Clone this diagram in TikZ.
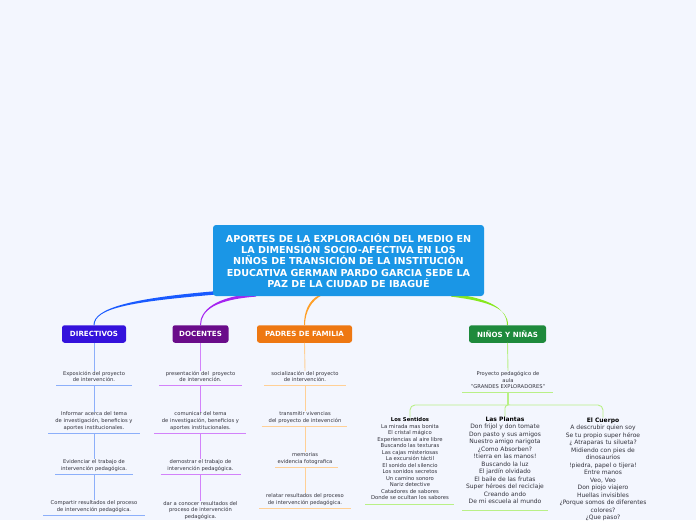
\documentclass[tikz,border=0pt]{standalone}
\usepackage{fontspec}
\setmainfont{DejaVu Sans}
\usetikzlibrary{calc}
\pgfdeclarelayer{back}
\pgfsetlayers{back,main}
\definecolor{bg}{RGB}{243,246,254}
\definecolor{cblue}{RGB}{26,150,230}
\definecolor{dirc}{RGB}{52,18,220}
\definecolor{docc}{RGB}{106,12,138}
\definecolor{padc}{RGB}{238,120,18}
\definecolor{ninc}{RGB}{30,138,60}
\definecolor{dirk}{RGB}{25,90,255}
\definecolor{dock}{RGB}{165,35,240}
\definecolor{padk}{RGB}{255,160,40}
\definecolor{nink}{RGB}{135,232,30}
\definecolor{dirl}{RGB}{140,175,250}
\definecolor{docl}{RGB}{210,130,250}
\definecolor{padl}{RGB}{255,208,150}
\definecolor{ninl}{RGB}{185,240,135}
\definecolor{txt}{RGB}{50,50,60}
\begin{document}
\begin{tikzpicture}[x=1pt,y=-1pt,
  central/.style={fill=cblue, rounded corners=3pt, text=white,
    font=\bfseries\fontsize{9.6}{11.4}\selectfont, align=center,
    minimum width=271pt, minimum height=71pt, inner sep=0pt},
  branch/.style={rounded corners=2.5pt, text=white,
    font=\bfseries\fontsize{7.1}{8}\selectfont, minimum height=17.5pt, inner sep=0pt},
  item/.style={font=\fontsize{5.2}{6.7}\selectfont, align=center, text=txt, inner sep=0pt},
  sent/.style={font=\fontsize{5.3}{6.5}\selectfont, align=center, text=txt, inner sep=0pt},
  big/.style={font=\fontsize{6}{7.5}\selectfont, align=center, text=txt, inner sep=0pt},
  vline/.style={line width=0.9pt},
  uline/.style={line width=0.9pt}
]
\useasboundingbox (0,0) rectangle (696,520);
\begin{pgfonlayer}{back}
\fill[bg] (0,0) rectangle (696,520);
\end{pgfonlayer}

% central and branch nodes
\node[central] (c) at (348.5,260.5) {APORTES DE LA EXPLORACIÓN DEL MEDIO EN\\LA DIMENSIÓN SOCIO-AFECTIVA EN LOS\\NIÑOS DE TRANSICIÓN DE LA INSTITUCIÓN\\EDUCATIVA GERMAN PARDO GARCIA SEDE LA\\PAZ DE LA CIUDAD DE IBAGUÉ};
\node[branch, fill=dirc, minimum width=64pt] (d) at (94,334) {DIRECTIVOS};
\node[branch, fill=docc, minimum width=56pt] (o) at (200.5,334) {DOCENTES};
\node[branch, fill=padc, minimum width=95pt] (p) at (304.5,334) {PADRES DE FAMILIA};
\node[branch, fill=ninc, minimum width=77pt] (n) at (507.5,334) {NIÑOS Y NIÑAS};

% tapered main connectors
\coordinate (cd) at (214,293);
\coordinate (co) at (256,295);
\coordinate (cp) at (321,295);
\coordinate (cn) at (451,295);
\begin{pgfonlayer}{back}
\fill[dirk] ($(cd)+(0,-1.7)$) .. controls +(-82,7) and +(0,-17) .. ($(d.north)+(-0.5,0)$)
  -- ($(d.north)+(0.5,0)$) .. controls +(0,-17) and +(-82,7) .. ($(cd)+(0,1.7)$) -- cycle;
\fill[dock] ($(co)+(0,-1.6)$) .. controls +(-40,3) and +(0,-15) .. ($(o.north)+(-0.5,0)$)
  -- ($(o.north)+(0.5,0)$) .. controls +(0,-15) and +(-40,3) .. ($(co)+(0,1.6)$) -- cycle;
\fill[padk] ($(cp)+(-1.5,0)$) .. controls +(-11,5) and +(0,-13) .. ($(p.north)+(-0.5,0)$)
  -- ($(p.north)+(0.5,0)$) .. controls +(0,-13) and +(-11,5) .. ($(cp)+(1.5,0)$) -- cycle;
\fill[nink] ($(cn)+(0,-1.6)$) .. controls +(40,5) and +(0,-16) .. ($(n.north)+(-0.5,0)$)
  -- ($(n.north)+(0.5,0)$) .. controls +(0,-16) and +(40,5) .. ($(cn)+(0,1.6)$) -- cycle;
\end{pgfonlayer}

% DIRECTIVOS
\node[item] (d1) at (94,376.5) {Exposición del proyecto\\de intervención.};
\node[item] (d2) at (94,421) {Informar acerca del tema\\de investigación, beneficios y\\aportes institucionales.};
\node[item] (d3) at (94,465.5) {Evidenciar el trabajo de\\intervención pedagógica.};
\node[item] (d4) at (94,506.5) {Compartir resultados del proceso\\de intervención pedagógica.};
\coordinate (d1u) at (94,385);
\coordinate (d2u) at (94,433);
\coordinate (d3u) at (94,474);
\draw[dirl, uline] (56,385) -- (132,385);
\draw[dirl, uline] (48,433) -- (140,433);
\draw[dirl, uline] (55,474) -- (133,474);
\draw[dirl, uline] (43,515) -- (145,515);
\draw[dirl, vline] (d.south) -- (d1.north);
\draw[dirl, vline] (d1u) -- (d2.north);
\draw[dirl, vline] (d2u) -- (d3.north);
\draw[dirl, vline] (d3u) -- (d4.north);

% DOCENTES
\node[item] (o1) at (200.5,376.5) {presentación del~ proyecto\\de intervención.};
\node[item] (o2) at (200.5,421) {comunicar del tema\\de investigación, beneficios y\\aportes institucionales.};
\node[item] (o3) at (200.5,465.5) {demostrar el trabajo de\\intervención pedagógica.};
\node[item] (o4) at (200.5,510.5) {dar a conocer resultados del\\proceso de intervención\\pedagógica.};
\coordinate (o1u) at (200.5,385.3);
\coordinate (o2u) at (200.5,433.3);
\coordinate (o3u) at (200.5,474);
\draw[docl, uline] (159,385.3) -- (241.7,385.3);
\draw[docl, uline] (154,433.3) -- (246,433.3);
\draw[docl, uline] (160.7,474) -- (240.7,474);
\draw[docl, vline] (o.south) -- (o1.north);
\draw[docl, vline] (o1u) -- (o2.north);
\draw[docl, vline] (o2u) -- (o3.north);
\draw[docl, vline] (o3u) -- (o4.north);

% PADRES DE FAMILIA
\node[item] (p1) at (305,376.5) {socialización del proyecto\\de intervención.};
\node[item] (p2) at (305,417.5) {transmitir vivencias\\del proyecto de intevención};
\node[item] (p3) at (305,458.5) {memorias\\evidencia fotografica};
\node[item] (p4) at (305,499.5) {relatar resultados del proceso\\de intervención pedagógica.};
\coordinate (p1u) at (305,385.3);
\coordinate (p2u) at (305,426.3);
\coordinate (p3u) at (305,467);
\draw[padl, uline] (264,385.3) -- (345.7,385.3);
\draw[padl, uline] (261.7,426.3) -- (347.3,426.3);
\draw[padl, uline] (275,467) -- (338,467);
\draw[padl, uline] (259.3,508.3) -- (350.7,508.3);
\draw[padl, vline] (p.south) -- (p1.north);
\draw[padl, vline] (p1u) -- (p2.north);
\draw[padl, vline] (p2u) -- (p3.north);
\draw[padl, vline] (p3u) -- (p4.north);

% NIÑOS Y NIÑAS
\node[item] (n1) at (508,380) {Proyecto pedagógico de\\aula\\"GRANDES EXPLORADORES"};
\coordinate (n1u) at (507.7,392.3);
\draw[ninl, uline] (462,392.3) -- (552.7,392.3);
\draw[ninl, vline] (n.south) -- (n1.north);

\node[sent, anchor=north] (ls) at (410,417.5) {{\bfseries\color{black}Los Sentidos}\\La mirada mas bonita\\El cristal mágico\\Experiencias al aire libre\\Buscando las texturas\\Las cajas misteriosas\\La excursión táctil\\El sonido del silencio\\Los sonidos secretos\\Un camino sonoro\\Nariz detective\\Catadores de sabores\\Donde se ocultan los sabores};
\node[big, anchor=north] (pl) at (505,416.5) {{\bfseries\color{black}Las Plantas}\\Don frijol y don tomate\\Don pasto y sus amigos\\Nuestro amigo narigota\\¿Como Absorben?\\!tierra en las manos!\\Buscando la luz\\El jardín olvidado\\El baile de las frutas\\Super héroes del reciclaje\\Creando ando\\De mi escuela al mundo};
\node[big, anchor=north] (ec) at (603,417.5) {{\bfseries\color{black}El Cuerpo}\\A descrubir quien soy\\Se tu propio super héroe\\¿ Atraparas tu silueta?\\Midiendo con pies de\\dinosaurios\\!piedra, papel o tijera!\\Entre manos\\Veo, Veo\\Don piojo viajero\\Huellas invisibles\\¿Porque somos de diferentes\\colores?\\¿Que paso?};
\draw[ninl, uline] (365,504) -- (454,504);
\draw[ninl, uline] (462,510) -- (548,510);

\coordinate (j) at (507.7,405);
\draw[ninl, line width=1.8pt] (n1u) -- (j);
\draw[ninl, vline, rounded corners=5pt] (ls.north) |- (j) -| (ec.north);
\draw[ninl, vline, rounded corners=3pt] (pl.north) |- (j);
\end{tikzpicture}
\end{document}
